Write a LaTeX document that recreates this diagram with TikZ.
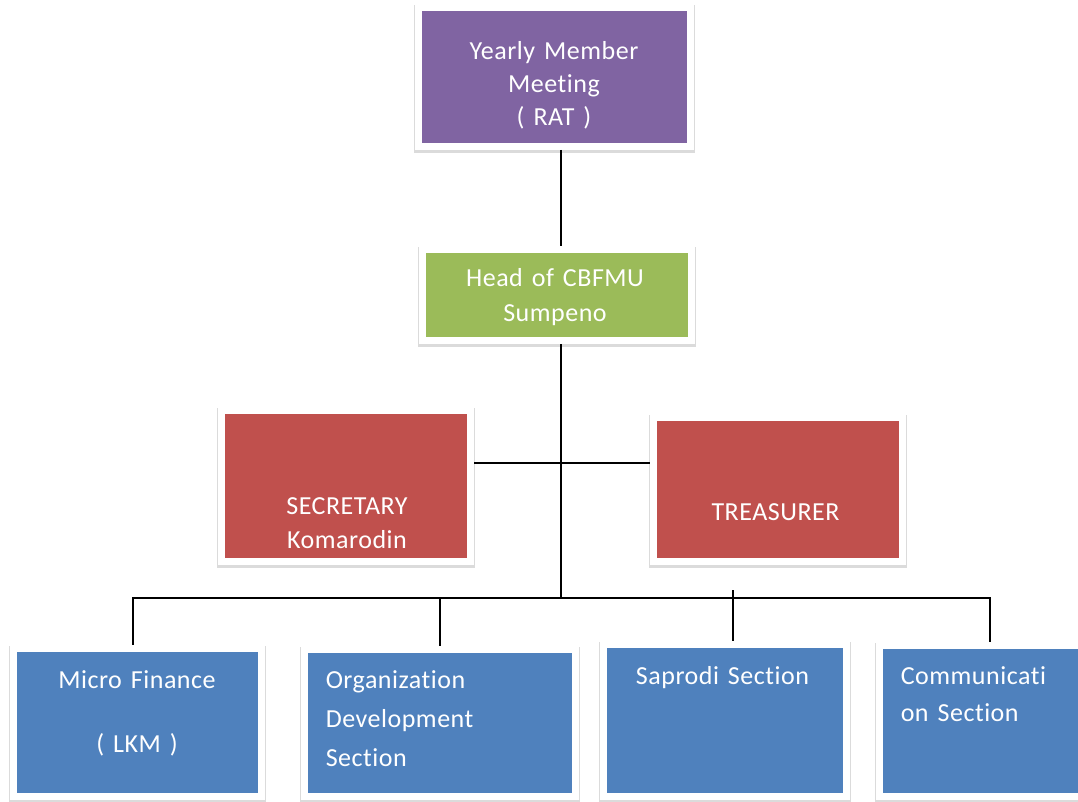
\documentclass[tikz,border=0pt]{standalone}
\usepackage{fontspec}
\setmainfont{Carlito}[Ligatures=NoCommon, LetterSpace=2, WordSpace=1.4]
\definecolor{ratc}{HTML}{8064A2}
\definecolor{headc}{HTML}{9BBB59}
\definecolor{offc}{HTML}{C0504D}
\definecolor{secc}{HTML}{4F81BD}
\tikzset{
  % a coloured unit box, white frame and a soft shadow under it
  unit/.style  = {rectangle, fill=#1, draw=white, line width=5.5pt, inner sep=0pt,
                  preaction={fill=black!14, draw=black!14, line width=6.5pt,
                             transform canvas={yshift=-1.4pt}}},
  % white text set into a box
  txt/.style   = {text=white, inner sep=0pt, font=\fontsize{19.5}{#1}\selectfont},
  txt/.default = 25,
  % a plain connector
  link/.style  = {line width=1.5pt, black},
}

\begin{document}
\begin{tikzpicture}[x=0.75pt, y=-0.75pt]
  \useasboundingbox (0,0) rectangle (1078,802);
  \clip (0,0) rectangle (1078,802);
  % boxes
  \node[unit=ratc,  minimum width=204pt, minimum height=104pt] (rat)  at (554.5,77)   {};
  \node[unit=headc, minimum width=202pt, minimum height=68pt]  (head) at (557,295)    {};
  \node[unit=offc,  minimum width=187pt, minimum height=113pt] (sec)  at (346,486)    {};
  \node[unit=offc,  minimum width=187pt, minimum height=108pt] (tre)  at (778,489.5)  {};
  \node[unit=secc,  minimum width=186pt, minimum height=111pt] (mf)   at (137.5,722.5){};
  \node[unit=secc,  minimum width=203pt, minimum height=110pt] (od)   at (440,723)    {};
  \node[unit=secc,  minimum width=182pt, minimum height=114pt] (sap)  at (725,720.5)  {};
  \node[unit=secc,  minimum width=185pt, minimum height=113pt] (com)  at (1003,721)   {};
  % texts
  \node[txt=24.75, align=center, anchor=north] (ratT)  at (554,41.5)
        {Yearly Member\\Meeting\\( RAT )};
  \node[txt=26.25, align=center, anchor=north] (headT) at (555,268.5)
        {Head of CBFMU\\Sumpeno};
  \node[txt=25.5,  align=center, anchor=north] (secT)  at (347,497)
        {SECRETARY\\Komarodin};
  \node[txt, anchor=north] (treT) at (775.5,503) {TREASURER};
  \node[txt=24,    align=center, anchor=north] (mfT)   at (137,670)
        {Micro Finance\\[24pt]( LKM )};
  \node[txt=29.25, align=left, anchor=north west] (odT) at (325.5,670)
        {Organization\\Development\\Section};
  \node[txt, anchor=north] (sapT) at (722.5,666) {Saprodi Section};
  \node[txt=27.75, align=left, anchor=north west] (comT) at (900.5,666)
        {Communicati\\on Section};
  % connectors
  \coordinate (trunk)  at (561,598);
  \coordinate (staff)  at (561,463);
  \coordinate (busL)   at (133,598);
  \coordinate (busR)   at (990,598);
  \coordinate (sapTop) at (733,590);
  \draw[link] (rat.south -| trunk) -- (head.north -| trunk);
  \draw[link] (head.south -| trunk) -- (trunk);
  \draw[link] (sec.east |- staff) -- (tre.west |- staff);
  \draw[link] (mf.north -| busL) -- (busL) -- (busR) -- (com.north -| busR);
  \draw[link] (od.north |- busL) -- (od.north);
  \draw[link] (sapTop) -- (sap.north -| sapTop);
\end{tikzpicture}
\end{document}
